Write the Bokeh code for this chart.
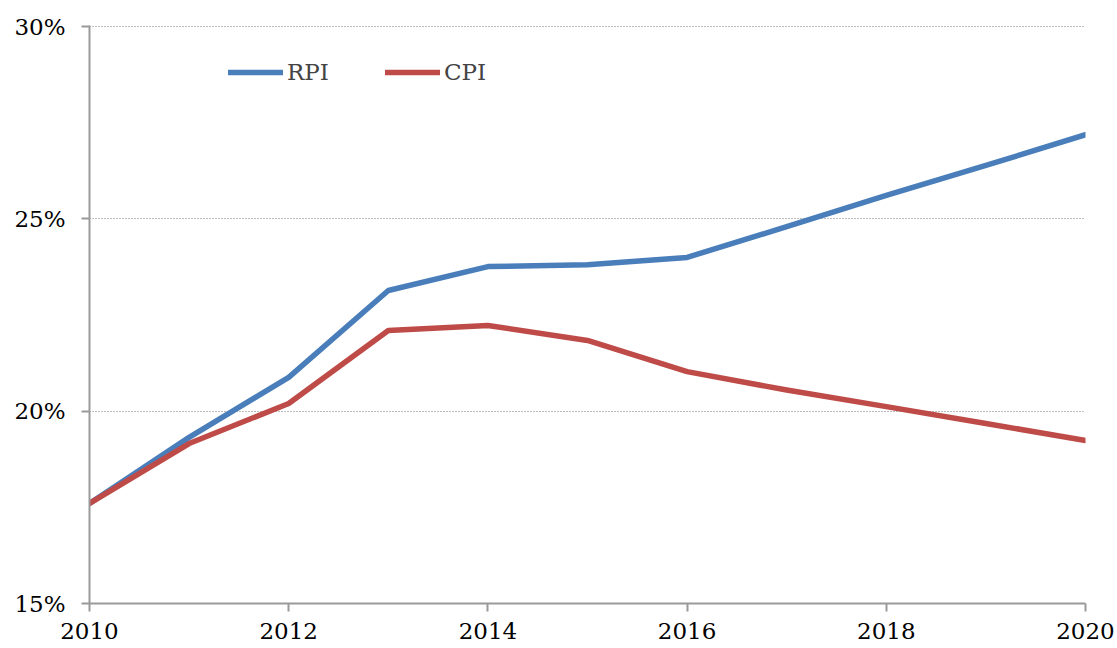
from bokeh.plotting import figure
from bokeh.models import Range1d, FixedTicker, PrintfTickFormatter, Legend, LegendItem
from bokeh.embed import file_html
from bokeh.resources import INLINE

years = [2010, 2011, 2012, 2013, 2014, 2015, 2016, 2017, 2018, 2019, 2020]
rpi = [17.60, 19.32, 20.88, 23.14, 23.76, 23.81, 24.00, 24.80, 25.61, 26.39, 27.19]
cpi = [17.60, 19.16, 20.20, 22.10, 22.23, 21.84, 21.03, 20.55, 20.12, 19.68, 19.24]
y_ticks = [15, 20, 25, 30]
x_ticks = [2010, 2012, 2014, 2016, 2018, 2020]

FONT = "DejaVu Serif"
AXIS_COLOR = "#9a9a9a"

p = figure(width=1117, height=648, output_backend="svg", toolbar_location=None,
           x_range=Range1d(2010, 2020), y_range=Range1d(15, 30.03),
           min_border_left=89, min_border_right=32, min_border_top=25, min_border_bottom=45)
p.outline_line_color = None
p.background_fill_color = "white"

r1 = p.line(years, rpi, line_color="#4a7ebb", line_width=5.5, line_join="round", line_cap="round")
r2 = p.line(years, cpi, line_color="#be4b48", line_width=5.5, line_join="round", line_cap="round")

p.xgrid.grid_line_color = None
p.ygrid.ticker = FixedTicker(ticks=y_ticks)
p.ygrid.grid_line_color = "#7a7a7a"
p.ygrid.grid_line_dash = "1 2"
p.ygrid.grid_line_width = 1.2

for ax in (p.xaxis[0], p.yaxis[0]):
    ax.axis_line_color = AXIS_COLOR
    ax.axis_line_width = 2
    ax.major_tick_line_color = AXIS_COLOR
    ax.major_tick_line_width = 2
    ax.major_tick_in = 0
    ax.major_tick_out = 8
    ax.minor_tick_line_color = None
    ax.major_label_text_font = FONT
    ax.major_label_text_font_size = "23px"
    ax.major_label_text_color = "black"

p.xaxis.ticker = FixedTicker(ticks=x_ticks)
p.xaxis.major_label_standoff = 11
p.yaxis.ticker = FixedTicker(ticks=y_ticks)
p.yaxis.formatter = PrintfTickFormatter(format="%d%%")
p.yaxis.major_label_standoff = 16

legend = Legend(items=[LegendItem(label="RPI", renderers=[r1]),
                       LegendItem(label="CPI", renderers=[r2])],
                orientation="horizontal", location=(139, 518),
                glyph_width=55, glyph_height=24, label_height=24,
                label_standoff=4, spacing=56, padding=0, margin=0,
                border_line_color=None, background_fill_alpha=0,
                label_text_font=FONT, label_text_font_size="23px")
p.add_layout(legend, "center")

open("out.html", "w").write(file_html(p, INLINE))
